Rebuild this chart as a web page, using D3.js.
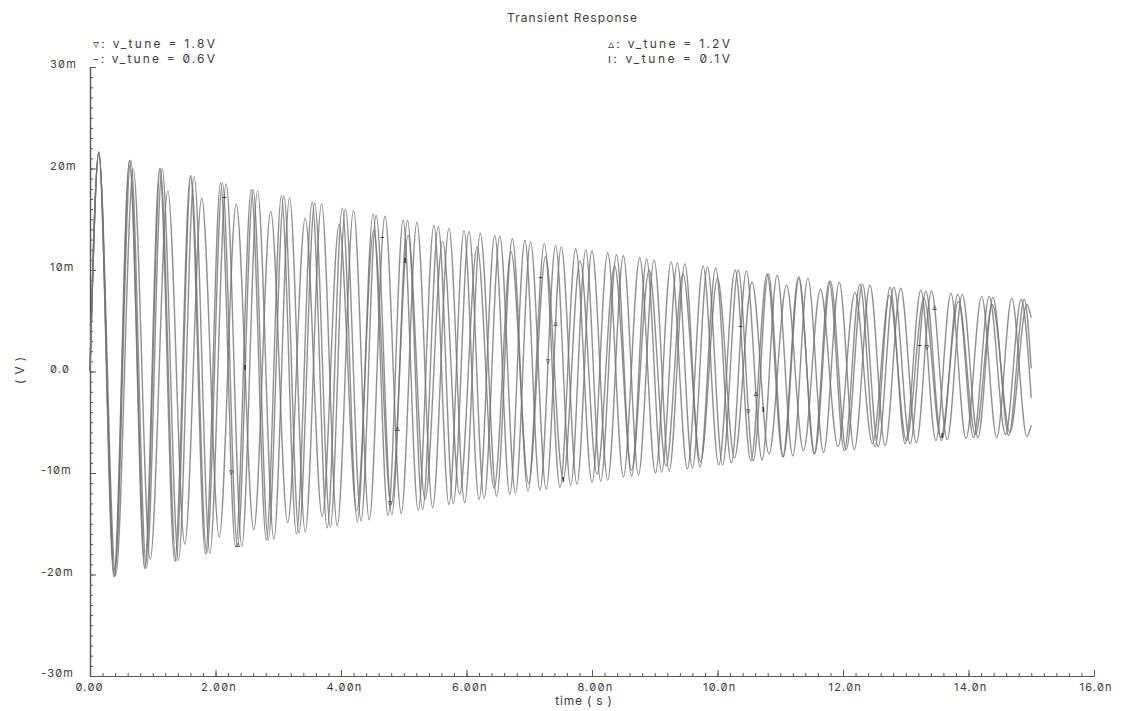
<!DOCTYPE html>
<html><head><meta charset="utf-8">
<script src="https://cdn.jsdelivr.net/npm/d3@7"></script>
<style>
body{margin:0;background:#fff;}
svg text{font-family:Inter,"DejaVu Sans",sans-serif;fill:#3c3c3c;font-feature-settings:"zero" 1;}
</style></head><body>
<svg id="chart" width="1125" height="711"></svg>
<script>
// ---------------- data ----------------
const chartTitle = "Transient Response";
const seriesNames = ["v_tune = 1.8V", "v_tune = 1.2V", "v_tune = 0.6V", "v_tune = 0.1V"];
const markerGlyphs = ["▿", "▵", "-", "ı"];
// extrema of each waveform: [time (ns), value (mV)]
const wave18 = [[0,0],[0.14,21.6],[0.38,-20.2],[0.63,20.8],[0.87,-19.4],[1.11,20.0],[1.35,-18.7],[1.60,19.3],[1.84,-18.0],[2.08,18.6],[2.32,-17.3],[2.57,17.9],[2.81,-16.6],[3.05,17.3],[3.29,-16.0],[3.54,16.7],[3.78,-15.4],[4.02,16.1],[4.26,-14.8],[4.51,15.5],[4.75,-14.2],[4.99,14.9],[5.23,-13.7],[5.48,14.4],[5.72,-13.1],[5.96,13.9],[6.20,-12.6],[6.45,13.4],[6.69,-12.1],[6.93,12.9],[7.17,-11.7],[7.42,12.4],[7.66,-11.2],[7.90,12.0],[8.14,-10.8],[8.39,11.5],[8.63,-10.3],[8.87,11.1],[9.11,-9.9],[9.36,10.7],[9.60,-9.5],[9.84,10.3],[10.08,-9.2],[10.33,10.0],[10.57,-8.8],[10.81,9.6],[11.05,-8.4],[11.30,9.3],[11.54,-8.1],[11.78,8.9],[12.02,-7.8],[12.27,8.6],[12.51,-7.4],[12.75,8.3],[12.99,-7.1],[13.24,8.0],[13.48,-6.8],[13.72,7.7],[13.96,-6.6],[14.21,7.4],[14.45,-6.5],[14.69,7.2],[14.93,-6.4],[15.0,-5.3]];
const wave12 = [[0,0],[0.14,21.6],[0.39,-20.2],[0.63,20.8],[0.88,-19.4],[1.12,20.0],[1.37,-18.7],[1.61,19.3],[1.86,-17.9],[2.11,18.6],[2.35,-17.2],[2.60,17.9],[2.84,-16.6],[3.09,17.3],[3.33,-15.9],[3.58,16.6],[3.83,-15.3],[4.07,16.0],[4.32,-14.7],[4.56,15.4],[4.81,-14.1],[5.06,14.9],[5.30,-13.6],[5.55,14.3],[5.79,-13.0],[6.04,13.8],[6.28,-12.5],[6.53,13.3],[6.78,-12.0],[7.02,12.8],[7.27,-11.6],[7.51,12.3],[7.76,-11.1],[8.00,11.9],[8.25,-10.7],[8.50,11.4],[8.74,-10.2],[8.99,11.0],[9.23,-9.8],[9.48,10.6],[9.72,-9.4],[9.97,10.2],[10.22,-9.0],[10.46,9.9],[10.71,-8.7],[10.95,9.5],[11.20,-8.3],[11.44,9.2],[11.69,-8.0],[11.94,8.8],[12.18,-7.7],[12.43,8.5],[12.67,-7.3],[12.92,8.2],[13.17,-7.0],[13.41,7.9],[13.66,-6.7],[13.90,7.6],[14.15,-6.5],[14.39,7.3],[14.64,-6.3],[14.89,7.1],[15.0,0.3]];
const wave06 = [[0,0],[0.14,21.6],[0.39,-20.2],[0.65,20.8],[0.90,-19.4],[1.15,20.0],[1.41,-18.6],[1.66,19.2],[1.91,-17.9],[2.17,18.5],[2.42,-17.2],[2.67,17.8],[2.93,-16.5],[3.18,17.1],[3.43,-15.8],[3.69,16.5],[3.94,-15.2],[4.20,15.9],[4.45,-14.6],[4.70,15.3],[4.96,-14.0],[5.21,14.7],[5.46,-13.4],[5.72,14.1],[5.97,-12.9],[6.22,13.6],[6.48,-12.3],[6.73,13.1],[6.98,-11.8],[7.24,12.6],[7.49,-11.4],[7.74,12.1],[8.00,-10.9],[8.25,11.7],[8.50,-10.4],[8.76,11.2],[9.01,-10.0],[9.26,10.8],[9.52,-9.6],[9.77,10.4],[10.02,-9.2],[10.28,10.0],[10.53,-8.8],[10.79,9.6],[11.04,-8.4],[11.29,9.3],[11.55,-8.1],[11.80,8.9],[12.05,-7.7],[12.31,8.6],[12.56,-7.4],[12.81,8.3],[13.07,-7.1],[13.32,7.9],[13.57,-6.8],[13.83,7.6],[14.08,-6.5],[14.33,7.4],[14.59,-6.2],[14.84,7.1],[15.0,-2.6]];
const wave01 = [[0,0],[0.14,21.4],[0.41,-20.1],[0.69,19.9],[0.96,-18.5],[1.24,17.8],[1.51,-17.0],[1.78,17.1],[2.06,-16.3],[2.33,16.5],[2.61,-15.6],[2.88,15.8],[3.15,-14.9],[3.43,15.1],[3.70,-14.3],[3.97,14.5],[4.25,-13.7],[4.52,13.9],[4.80,-13.1],[5.07,13.4],[5.34,-12.6],[5.62,12.8],[5.89,-12.1],[6.17,12.3],[6.44,-11.5],[6.71,11.8],[6.99,-11.0],[7.26,11.3],[7.54,-10.6],[7.81,10.9],[8.08,-10.1],[8.36,10.4],[8.63,-9.7],[8.91,10.0],[9.18,-9.3],[9.45,9.6],[9.73,-8.9],[10.00,9.2],[10.27,-8.5],[10.55,8.8],[10.82,-8.1],[11.10,8.5],[11.37,-7.8],[11.64,8.1],[11.92,-7.4],[12.19,7.8],[12.47,-7.1],[12.74,7.5],[13.01,-6.8],[13.29,7.2],[13.56,-6.5],[13.84,6.9],[14.11,-6.2],[14.38,6.6],[14.66,-6.0],[14.93,6.6],[15.0,5.3]];
// marker times (ns) for each series
const markers18 = [2.25, 4.78, 7.30, 10.49, 13.34];
const markers12 = [2.36, 4.90, 7.42, 10.61, 13.46];
const markers06 = [2.14, 4.66, 7.18, 10.37, 13.22];
const markers01 = [2.47, 5.02, 7.54, 10.73, 13.58];
const xMajorTicks = [0, 2, 4, 6, 8, 10, 12, 14, 16];
const xTickLabels = ["0.00", "2.00n", "4.00n", "6.00n", "8.00n", "10.0n", "12.0n", "14.0n", "16.0n"];
const yMajorTicks = [-30, -20, -10, 0, 10, 20, 30];
const yTickLabels = ["-30m", "-20m", "-10m", "0.0", "10m", "20m", "30m"];
const xAxisTitle = "time ( s )";
const yAxisTitle = "( V )";

// ---------------- drawing ----------------
const waves = [wave18, wave12, wave06, wave01];
const markerSets = [markers18, markers12, markers06, markers01];
const svg = d3.select("#chart");
const x = d3.scaleLinear().domain([0, 16]).range([90, 1094]);
const y = d3.scaleLinear().domain([-30, 30]).range([676, 67]);

// axes (ticks pointing inward)
const axisColor = "#555";
function styleAxis(g){ g.select(".domain").attr("stroke", axisColor).attr("stroke-width",1.2); g.selectAll(".tick line").attr("stroke", axisColor).attr("stroke-width",1); g.selectAll("text").remove(); }
svg.append("g").attr("transform","translate(90,0)")
  .call(d3.axisRight(y).tickValues(d3.range(-30, 30.5, 1)).tickSize(3).tickSizeOuter(0)).call(styleAxis);
svg.append("g").attr("transform","translate(90,0)")
  .call(d3.axisRight(y).tickValues(yMajorTicks).tickSize(6).tickSizeOuter(0)).call(styleAxis);
svg.append("g").attr("transform","translate(0,676)")
  .call(d3.axisTop(x).tickValues(d3.range(0, 16.01, 0.2)).tickSize(3).tickSizeOuter(0)).call(styleAxis);
svg.append("g").attr("transform","translate(0,676)")
  .call(d3.axisTop(x).tickValues(xMajorTicks).tickSize(6).tickSizeOuter(0)).call(styleAxis);

// tick labels
svg.append("g").selectAll("text").data(yMajorTicks).join("text")
  .attr("x", (d,i) => yTickLabels[i].startsWith("-") ? 41 : 50)
  .attr("y", d => y(d) + 1)
  .attr("font-size", 11).attr("letter-spacing", 1.2)
  .text((d,i) => yTickLabels[i]);
svg.append("g").selectAll("text").data(xMajorTicks).join("text")
  .attr("x", d => x(d) - 14.5)
  .attr("y", 691)
  .attr("font-size", 11).attr("letter-spacing", 1.2)
  .text((d,i) => xTickLabels[i]);

// axis titles
svg.append("text").attr("x", 584).attr("y", 705).attr("text-anchor","middle")
  .attr("font-size", 12).attr("letter-spacing", 0.8).text(xAxisTitle);
svg.append("text").attr("transform","translate(24,370) rotate(-90)").attr("text-anchor","middle")
  .attr("font-size", 12).attr("letter-spacing", 0.8).text(yAxisTitle);

// title and legend
svg.append("text").attr("x", 507).attr("y", 22).attr("font-size", 12)
  .attr("textLength", 130).attr("lengthAdjust","spacing").text(chartTitle);
const legendPos = [[93,48],[608,48],[93,63],[608,63]];
svg.append("g").selectAll("text").data(seriesNames).join("text")
  .attr("x", (d,i) => legendPos[i][0]).attr("y", (d,i) => legendPos[i][1])
  .attr("font-size", 12).attr("textLength", 122).attr("lengthAdjust","spacing")
  .attr("xml:space","preserve")
  .text((d,i) => markerGlyphs[i] + ": " + d);

// waveforms
const line = d3.line().x(d => x(d[0])).y(d => y(d[1])).curve(d3.curveMonotoneX);
const paths = svg.append("g").selectAll("path").data(waves).join("path")
  .attr("d", line).attr("fill","none")
  .attr("stroke", "#747474").attr("stroke-width", 1.4).attr("stroke-opacity", 0.8)
  .attr("stroke-linejoin","round");

// markers placed on the drawn curves
function yOnPath(node, px){
  let lo = 0, hi = node.getTotalLength(), p = null;
  for (let k = 0; k < 40; k++){
    const mid = (lo + hi) / 2; p = node.getPointAtLength(mid);
    if (p.x < px) lo = mid; else hi = mid;
  }
  return p.y;
}
paths.each(function(d, i){
  const node = this;
  svg.append("g").selectAll("text").data(markerSets[i]).join("text")
    .attr("x", t => x(t)).attr("y", t => yOnPath(node, x(t)) + 3)
    .attr("text-anchor","middle").attr("font-size", 9).attr("font-weight","bold")
    .style("fill","#1e1e1e")
    .text(markerGlyphs[i]);
});
</script>
</body></html>
